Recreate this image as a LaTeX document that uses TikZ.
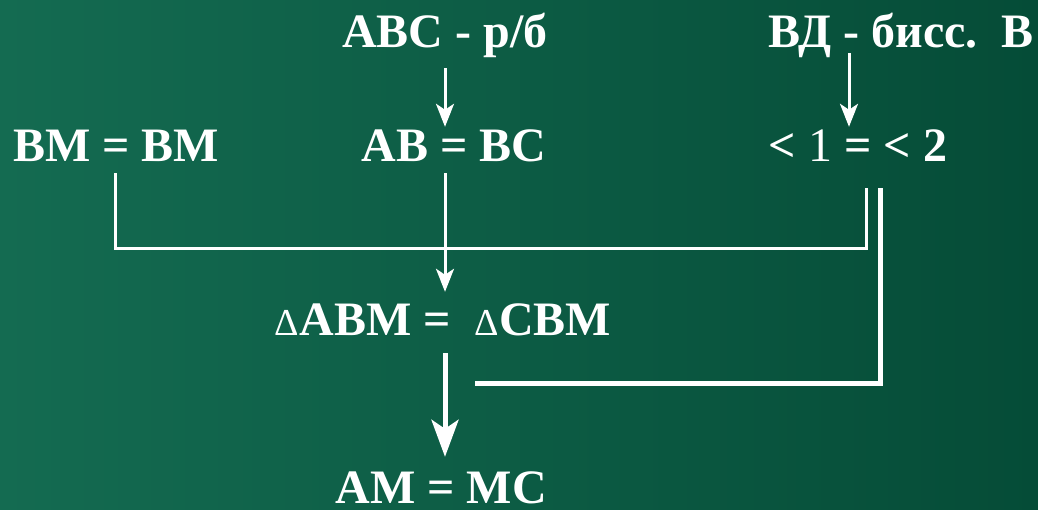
\documentclass[tikz,border=0pt]{standalone}
\usepackage{fontspec}
\setmainfont{Liberation Serif}
\usetikzlibrary{arrows.meta,calc}
\definecolor{boardlight}{RGB}{20,107,81}
\definecolor{boarddark}{RGB}{5,76,55}
\newcommand{\smalltri}{{\fontsize{38}{40}\selectfont\mdseries Δ}}

\begin{document}
\begin{tikzpicture}[x=1pt,y=1pt,
  txt/.style={inner sep=0pt, anchor=base, text=white, text height=32pt, text depth=0pt,
    font=\fontsize{48}{50}\selectfont\bfseries},
  link/.style={white, line width=3pt},
  thicklink/.style={white, line width=5pt},
  arr/.style={link, -{Stealth[length=23pt,width=18pt,inset=6pt]}},
  thickarr/.style={thicklink, -{Stealth[length=37pt,width=27pt,inset=9pt]}}]
  \shade[left color=boardlight, right color=boarddark] (0,0) rectangle (1038,509);
  \useasboundingbox (0,0) rectangle (1038,509);

  \node[txt] (abc) at (445,461) {АВС - р/б};
  \node[txt] (vd) at (901,461) {ВД - бисс.\ \ В};
  \node[txt] (bmbm) at (116,347) {BM = BM};
  \node[txt] (abbc) at (454,347) {AB = BC};
  \node[txt] (ang) at (858,347) {< {\mdseries 1} = < 2};
  \node[txt] (tri) at (443,174) {\smalltri ABM =\ \ \smalltri CBM};
  \node[txt] (ammc) at (441,6) {AM = MC};

  \coordinate (vdfoot) at ($(vd.south)+(-52,-5)$);
  \draw[arr] ($(abc.south)+(0,-20)$) -- ($(abc.south |- abbc.north)+(0,3)$);
  \draw[arr] (vdfoot) -- ($(vdfoot |- ang.north)+(0,3)$);
  \draw[link] ($(bmbm.south)+(-1,-11)$) |- ($(ang.south)+(8,-86)$) -- ($(ang.south)+(8,-26)$);
  \draw[arr] ($(abc.south |- abbc.south)+(0,-11)$) -- ($(abc.south |- tri.north)+(0,11)$);
  \draw[thickarr] ($(abc.south |- tri.south)+(0,-18)$) -- ($(abc.south |- ammc.north)+(0,14)$);
  \draw[thicklink] ($(ang.south)+(22,-26)$) |- ($(tri.south)+(32,-48)$);
\end{tikzpicture}
\end{document}
